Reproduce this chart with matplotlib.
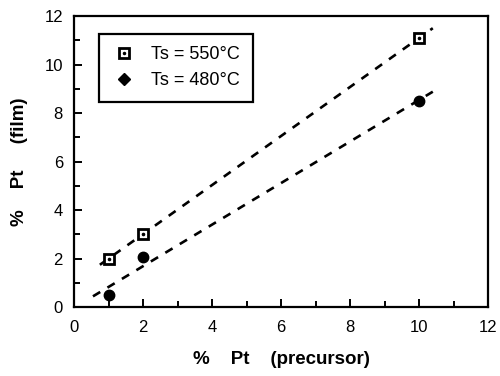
import matplotlib
matplotlib.use("Agg")
import matplotlib.pyplot as plt
import numpy as np
from matplotlib.lines import Line2D
from matplotlib.ticker import MultipleLocator

plt.rcParams["font.family"] = ["Liberation Sans", "DejaVu Sans"]

# data
pt_precursor = [1, 2, 10]
pt_film_550 = [2.0, 3.0, 11.1]
pt_film_480 = [0.5, 2.05, 8.5]
labels = ["Ts = 550°C", "Ts = 480°C"]
fit_range_550 = [0.75, 10.4]
fit_range_480 = [0.55, 10.4]

fig = plt.figure(figsize=(5.0, 3.76), dpi=100)
ax = fig.add_axes([0.148, 0.1835, 0.828, 0.7735])

# dashed linear fits
for ys, xr in ((pt_film_550, fit_range_550), (pt_film_480, fit_range_480)):
    k, b = np.polyfit(pt_precursor, ys, 1)
    xx = np.array(xr)
    ax.plot(xx, k * xx + b, ls=(0, (3.2, 3.2)), color="black", lw=1.9)

ax.plot(pt_precursor, pt_film_550, ls="none", marker="s", ms=7, mfc="white",
        mec="black", mew=2.0, zorder=3)
ax.plot(pt_precursor, pt_film_550, ls="none", marker="o", ms=1.6, color="black", zorder=4)
ax.plot(pt_precursor, pt_film_480, ls="none", marker="o", ms=7.5, color="black", zorder=3)

h550 = (Line2D([], [], ls="none", marker="s", ms=6.5, mfc="white", mec="black", mew=2.0),
        Line2D([], [], ls="none", marker="o", ms=1.5, color="black"))
h480 = Line2D([], [], ls="none", marker="D", ms=6, color="black")
leg = ax.legend([h550, h480], labels, loc="upper left", bbox_to_anchor=(0.06, 0.94),
                borderaxespad=0, fontsize=13, frameon=True, fancybox=False,
                edgecolor="black", framealpha=1, borderpad=0.7, handletextpad=0.8,
                labelspacing=0.5, handlelength=1.4)
leg.get_frame().set_linewidth(1.6)

ax.set_xlim(0, 12)
ax.set_ylim(0, 12)
ax.xaxis.set_major_locator(MultipleLocator(2))
ax.yaxis.set_major_locator(MultipleLocator(2))
ax.xaxis.set_minor_locator(MultipleLocator(1))
ax.yaxis.set_minor_locator(MultipleLocator(1))
ax.tick_params(which="both", direction="in", width=1.4, labelsize=12)
ax.tick_params(axis="x", pad=9)
ax.tick_params(axis="y", pad=8)
ax.tick_params(which="major", length=6)
ax.tick_params(which="minor", length=4)
for s in ax.spines.values():
    s.set_linewidth(1.6)

ax.set_xlabel("%    Pt    (precursor)", fontsize=13.5, fontweight="bold", labelpad=12)
ax.set_ylabel("%    Pt     (film)", fontsize=13.5, fontweight="bold", labelpad=12)

fig.savefig("out.png", dpi=100, facecolor="white")
